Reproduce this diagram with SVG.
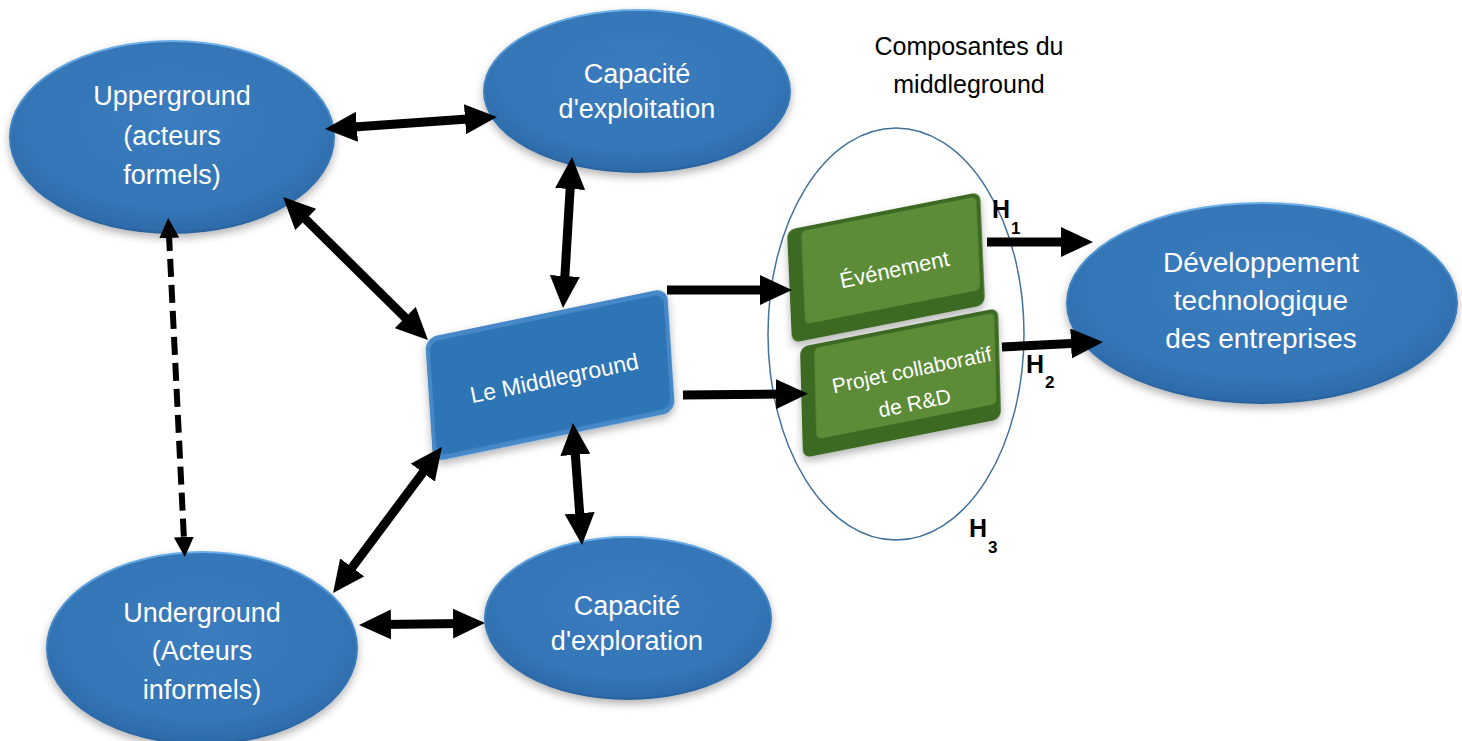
<svg xmlns="http://www.w3.org/2000/svg" width="1462" height="741" viewBox="0 0 1462 741">
<style>
.ell{fill:url(#blueFill);stroke:url(#rim);stroke-width:2;filter:url(#sh)}
.wt{fill:#ffffff;font-family:"Liberation Sans",Arial,sans-serif;text-anchor:middle}
.big{font-size:27px}
.bt{fill:#000;font-family:"Liberation Sans",Arial,sans-serif;text-anchor:middle;font-size:25px}
.h{fill:#000;font-family:"Liberation Sans",Arial,sans-serif;font-weight:bold;font-size:25px}
.hs{fill:#000;font-family:"Liberation Sans",Arial,sans-serif;font-weight:bold;font-size:17px}
.ar{stroke:#000;stroke-width:9;fill:none;marker-start:url(#ah);marker-end:url(#ah)}
.ar1{stroke:#000;stroke-width:9;fill:none;marker-end:url(#ah)}
.dash{stroke:#000;stroke-width:6;fill:none;stroke-dasharray:18 8;marker-start:url(#ahs);marker-end:url(#ahs)}
</style>
<defs>
<radialGradient id="blueFill" cx="50%" cy="42%" r="60%">
<stop offset="0" stop-color="#3a7cbe"/>
<stop offset="0.75" stop-color="#3476b7"/>
<stop offset="1" stop-color="#2b68a6"/>
</radialGradient>
<linearGradient id="rim" x1="0" y1="0" x2="0" y2="1">
<stop offset="0" stop-color="#6aaee8"/>
<stop offset="0.5" stop-color="#3a7cbe"/>
<stop offset="1" stop-color="#2a629c"/>
</linearGradient>
<filter id="sh" x="-10%" y="-10%" width="120%" height="130%">
<feDropShadow dx="0" dy="4" stdDeviation="4" flood-color="#000" flood-opacity="0.3"/>
</filter>
<marker id="ah" viewBox="0 0 32 30" markerWidth="32" markerHeight="30" refX="10" refY="15" orient="auto-start-reverse" markerUnits="userSpaceOnUse">
<path d="M0,0 L32,15 L0,30 z" fill="#000"/>
</marker>
<marker id="ahs" viewBox="0 0 20 20" markerWidth="20" markerHeight="20" refX="5" refY="10" orient="auto-start-reverse" markerUnits="userSpaceOnUse">
<path d="M0,0 L20,10 L0,20 z" fill="#000"/>
</marker>
</defs>
<rect width="1462" height="741" fill="#ffffff"/>

<g id="composantes">
<ellipse cx="896" cy="334" rx="128" ry="206" fill="none" stroke="#41719c" stroke-width="1.5"/>
<text class="bt" x="969" y="55">Composantes du</text>
<text class="bt" x="969" y="93">middleground</text>
</g>

<g id="upperground">
<ellipse class="ell" cx="172" cy="137" rx="162" ry="96"/>
<text class="wt big" x="172" y="105">Upperground</text>
<text class="wt big" x="172" y="145">(acteurs</text>
<text class="wt big" x="172" y="184">formels)</text>
</g>

<g id="exploitation">
<ellipse class="ell" cx="637" cy="91" rx="153" ry="81"/>
<text class="wt big" x="637" y="83">Capacité</text>
<text class="wt big" x="637" y="118">d'exploitation</text>
</g>

<g id="underground">
<ellipse class="ell" cx="202" cy="648" rx="155" ry="96"/>
<text class="wt big" x="202" y="622">Underground</text>
<text class="wt big" x="202" y="660">(Acteurs</text>
<text class="wt big" x="202" y="699">informels)</text>
</g>

<g id="exploration">
<ellipse class="ell" cx="628" cy="618" rx="143" ry="81"/>
<text class="wt big" x="627" y="615">Capacité</text>
<text class="wt big" x="627" y="650">d'exploration</text>
</g>

<g id="developpement">
<ellipse class="ell" cx="1262" cy="303" rx="195" ry="100"/>
<text class="wt" font-size="28" x="1261" y="272">Développement</text>
<text class="wt" font-size="28" x="1261" y="310">technologique</text>
<text class="wt" font-size="28" x="1261" y="348">des entreprises</text>
</g>

<g id="middleground">
<g transform="matrix(1,-0.2066,0.0656,1,425,338)" filter="url(#sh)">
<rect x="0" y="0" width="242" height="124" rx="12" fill="#4688c8"/>
<rect x="4" y="5" width="234" height="114" rx="9" fill="#2f74b5"/>
</g>
<text class="wt" font-size="23" x="556" y="386" transform="rotate(-11.7 556 386)">Le Middleground</text>
</g>

<g id="evenement">
<g transform="matrix(1,-0.197,0.044,1,787,230)" filter="url(#sh)">
<rect x="0" y="0" width="193" height="113" rx="8" fill="#3c6b22"/>
<rect x="14" y="4" width="175" height="93" rx="5" fill="#5b8c37"/>
</g>
<text class="wt" font-size="22" x="896" y="277" transform="rotate(-12 896 277)">Événement</text>
</g>

<g id="projet">
<g transform="matrix(1,-0.197,0.027,1,800,347)" filter="url(#sh)">
<rect x="0" y="0" width="198" height="111" rx="8" fill="#3c6b22"/>
<rect x="14" y="4" width="180" height="91" rx="5" fill="#5b8c37"/>
</g>
<g transform="rotate(-11.7 913 376)">
<text class="wt" font-size="21" x="913" y="377">Projet collaboratif</text>
<text class="wt" font-size="21" x="909" y="410">de R&amp;D</text>
</g>
</g>

<g id="connectors">
<line class="ar" x1="346.9" y1="127.5" x2="475" y2="118.5"/>
<line class="ar" x1="298.7" y1="212.4" x2="412.3" y2="324.6"/>
<line class="ar" x1="570.7" y1="179" x2="564.3" y2="286"/>
<line class="ar" x1="428.8" y1="464.6" x2="346.2" y2="575.4"/>
<line class="ar" x1="574.6" y1="444.9" x2="580.4" y2="523.1"/>
<line class="ar" x1="381" y1="624.6" x2="463" y2="623.4"/>
<line class="dash" x1="168.9" y1="233" x2="184.1" y2="542"/>
<line class="ar1" x1="667" y1="290" x2="770" y2="290"/>
<line class="ar1" x1="683" y1="395" x2="786" y2="394"/>
<line class="ar1" x1="987" y1="242" x2="1071" y2="242"/>
<line class="ar1" x1="1002" y1="347" x2="1081" y2="343.1"/>
</g>

<g id="labels">
<text class="h" x="992" y="218">H</text><text class="hs" x="1011" y="234">1</text>
<text class="h" x="1026" y="373">H</text><text class="hs" x="1045" y="388">2</text>
<text class="h" x="969" y="537">H</text><text class="hs" x="988" y="553">3</text>
</g>
</svg>
